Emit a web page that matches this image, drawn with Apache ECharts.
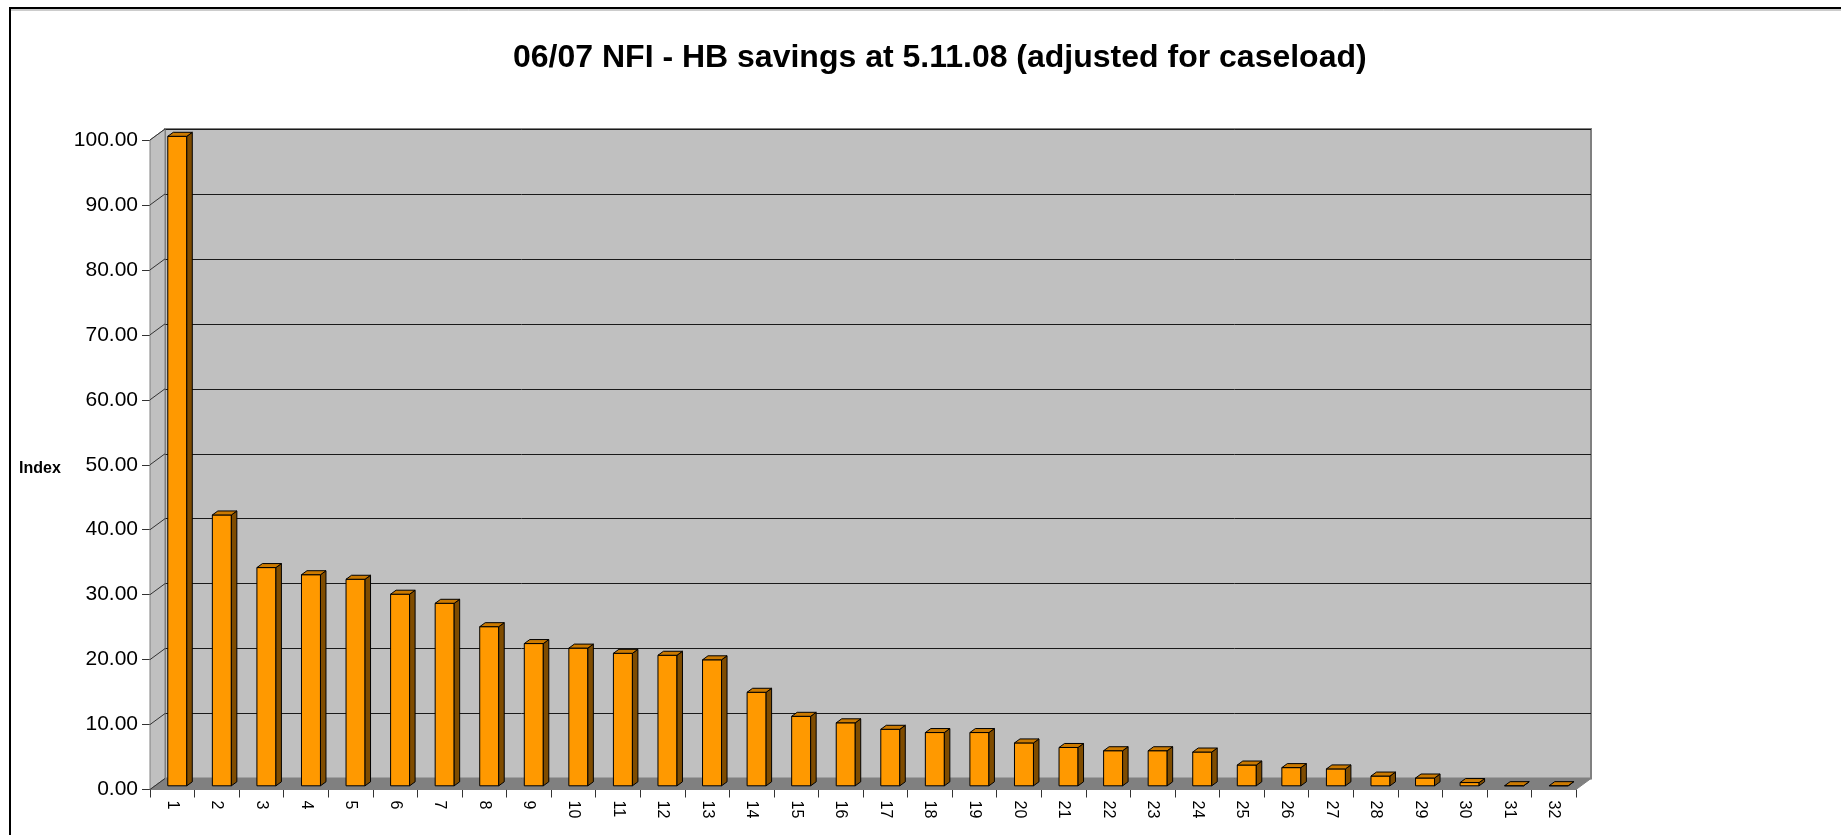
<!doctype html>
<html lang="en">
  <head>
    <meta charset="utf-8">
    <title>06/07 NFI - HB savings</title>
    <script src="https://cdn.jsdelivr.net/npm/echarts@6/dist/echarts.min.js"></script>
    <style>
      html, body { margin: 0; padding: 0; background: #fff; }
      #chart { width: 1841px; height: 835px; }
    </style>
  </head>
  <body>
    <div id="chart"></div>
    <script>
    // data
    var categories = ['1','2','3','4','5','6','7','8','9','10','11','12','13','14','15','16',
                      '17','18','19','20','21','22','23','24','25','26','27','28','29','30','31','32'];
    var indexValues = [100.0, 41.7, 33.6, 32.5, 31.8, 29.5, 28.1, 24.5, 21.9, 21.2, 20.4, 20.1,
                       19.4, 14.4, 10.7, 9.7, 8.7, 8.2, 8.2, 6.6, 5.9, 5.4, 5.4, 5.2,
                       3.2, 2.8, 2.6, 1.5, 1.2, 0.5, 0.02, 0.02];
    var yTicks = [0, 10, 20, 30, 40, 50, 60, 70, 80, 90, 100];

    // fake 3d depth of the box (wall offset) and of the bars
    var DX = 15, DY = 11;
    var BAR_W = 19, BAR_DX = 5.5, BAR_DY = 4, BAR_SHIFT_X = 5, BAR_SHIFT_Y = 3.7;

    var front = { left: 150, top: 140, right: 265, bottom: 45.5 };

    var chart = echarts.init(document.getElementById('chart'), null, { renderer: 'canvas' });

    function renderWalls(params, api) {
      if (params.dataIndex !== 0) return;
      var cs = params.coordSys;
      var x = cs.x, y = cs.y, w = cs.width, h = cs.height;
      var children = [];
      // left side wall
      children.push({
        type: 'polygon',
        shape: { points: [[x, y], [x + DX, y - DY], [x + DX, y + h - DY], [x, y + h]] },
        style: { fill: '#C0C0C0', stroke: '#808080', lineWidth: 1 }
      });
      // floor
      children.push({
        type: 'polygon',
        shape: { points: [[x, y + h], [x + w, y + h], [x + w + DX, y + h - DY], [x + DX, y + h - DY]] },
        style: { fill: '#808080', stroke: '#808080', lineWidth: 1 }
      });
      // diagonal tick lines on the side wall
      yTicks.forEach(function (t) {
        var py = api.coord([0, t])[1];
        children.push({
          type: 'line',
          shape: { x1: x, y1: py, x2: x + DX, y2: py - DY },
          style: { stroke: '#333333', lineWidth: 1 }
        });
      });
      return { type: 'group', children: children };
    }

    function renderBar(params, api) {
      var i = api.value(0);
      var v = api.value(1);
      var top = api.coord([i, v]);
      var base = api.coord([i, 0]);
      var x0 = top[0] + BAR_SHIFT_X - BAR_W / 2;
      var y0 = top[1] - BAR_SHIFT_Y;
      var y1 = base[1] - BAR_SHIFT_Y;
      var lineStyle = { stroke: '#000', lineWidth: 1 };
      return {
        type: 'group',
        children: [
          {
            type: 'rect',
            shape: { x: x0, y: y0, width: BAR_W, height: Math.max(y1 - y0, 0) },
            style: Object.assign({ fill: '#FF9900' }, lineStyle)
          },
          {
            type: 'polygon',
            shape: { points: [[x0 + BAR_W, y0], [x0 + BAR_W + BAR_DX, y0 - BAR_DY],
                              [x0 + BAR_W + BAR_DX, y1 - BAR_DY], [x0 + BAR_W, y1]] },
            style: Object.assign({ fill: '#7F4C00' }, lineStyle)
          },
          {
            type: 'polygon',
            shape: { points: [[x0, y0], [x0 + BAR_DX, y0 - BAR_DY],
                              [x0 + BAR_W + BAR_DX, y0 - BAR_DY], [x0 + BAR_W, y0]] },
            style: Object.assign({ fill: '#CC7A00' }, lineStyle)
          }
        ]
      };
    }

    var option = {
      animation: false,
      backgroundColor: '#ffffff',
      textStyle: { fontFamily: 'Liberation Sans' },
      title: [
        {
          text: '06/07 NFI - HB savings at 5.11.08 (adjusted for caseload)',
          left: 508,
          top: 37,
          textStyle: { fontSize: 32, fontWeight: 'bold', color: '#000', fontFamily: 'Liberation Sans' }
        },
        {
          text: 'Index',
          left: 14,
          top: 456,
          textStyle: { fontSize: 16, fontWeight: 'bold', color: '#000', fontFamily: 'Liberation Sans' }
        }
      ],
      graphic: [
        {
          type: 'rect',
          shape: { x: 10, y: 8, width: 2000, height: 1000 },
          style: { fill: 'none', stroke: '#000', lineWidth: 2 },
          silent: true
        },
        {
          type: 'line',
          shape: { x1: 11, y1: 10, x2: 1841, y2: 10 },
          style: { stroke: '#999', lineWidth: 1 },
          silent: true
        }
      ],
      grid: [
        // front plane: axes, floor, bars
        { left: front.left, top: front.top, right: front.right, bottom: front.bottom },
        // back wall
        {
          left: front.left + DX, top: front.top - DY,
          right: front.right - DX, bottom: front.bottom + DY,
          show: true, backgroundColor: '#C0C0C0', borderColor: '#808080', borderWidth: 2
        }
      ],
      xAxis: [
        {
          type: 'category',
          gridIndex: 0,
          data: categories,
          axisLine: { show: true, lineStyle: { color: '#000', width: 1 } },
          axisTick: { show: true, alignWithLabel: false, length: 8, lineStyle: { color: '#333' } },
          axisLabel: { interval: 0, rotate: -90, fontSize: 16, color: '#000', margin: 11 }
        },
        {
          type: 'category',
          gridIndex: 1,
          data: categories,
          show: false
        }
      ],
      yAxis: [
        {
          type: 'value',
          gridIndex: 0,
          min: 0,
          max: 100,
          interval: 10,
          axisLine: { show: true, lineStyle: { color: '#808080', width: 1 } },
          axisTick: { show: true, length: 8, lineStyle: { color: '#333' } },
          axisLabel: {
            fontSize: 21, color: '#000', margin: 12,
            formatter: function (v) { return v.toFixed(2); }
          },
          splitLine: { show: false }
        },
        {
          type: 'value',
          gridIndex: 1,
          min: 0,
          max: 100,
          interval: 10,
          axisLine: { show: false },
          axisTick: { show: false },
          axisLabel: { show: false },
          splitLine: { show: true, lineStyle: { color: '#1a1a1a', width: 1 } }
        }
      ],
      series: [
        {
          type: 'custom',
          name: 'walls',
          xAxisIndex: 0,
          yAxisIndex: 0,
          z: 1,
          silent: true,
          clip: false,
          data: [[0, 0]],
          renderItem: renderWalls
        },
        {
          type: 'custom',
          name: 'Index',
          xAxisIndex: 0,
          yAxisIndex: 0,
          z: 3,
          clip: false,
          data: indexValues.map(function (v, i) { return [i, v]; }),
          renderItem: renderBar
        }
      ]
    };

    chart.setOption(option);
    </script>
  </body>
</html>
